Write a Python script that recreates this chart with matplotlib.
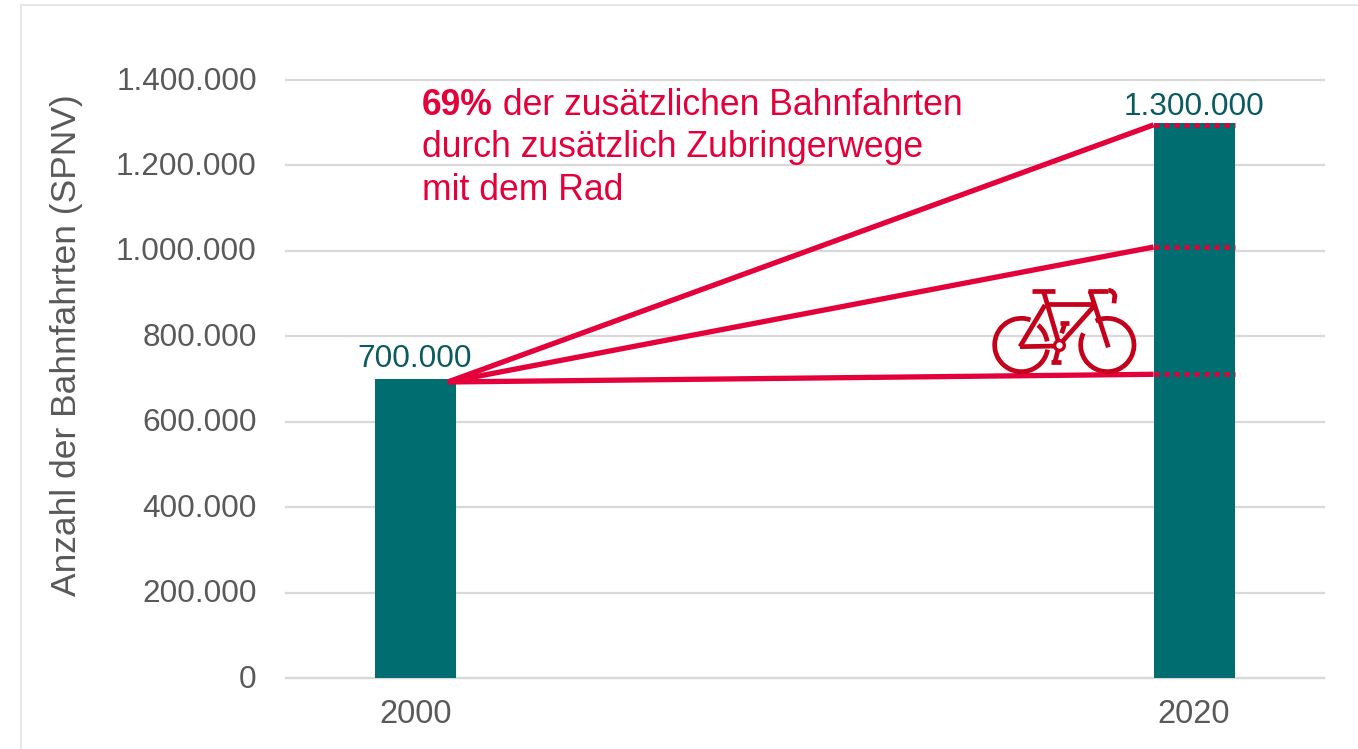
import matplotlib
matplotlib.use("Agg")
import matplotlib.pyplot as plt
from matplotlib.lines import Line2D
from matplotlib.patches import Arc
from matplotlib.transforms import ScaledTranslation

plt.rcParams['font.family'] = ['Liberation Sans', 'DejaVu Sans']

years = ['2000', '2020']
trips = [700000, 1300000]
trip_labels = ['700.000', '1.300.000']
y_ticks = [0, 200000, 400000, 600000, 800000, 1000000, 1200000, 1400000]
y_tick_labels = ['0', '200.000', '400.000', '600.000', '800.000', '1.000.000', '1.200.000', '1.400.000']
fan_start = 693000
fan_levels = [1295000, 1009000, 711000]
note_lines = ['durch zusätzlich Zubringerwege', 'mit dem Rad']

W, H = 1358, 749
TEAL = '#006d70'
RED = '#e4003a'
BIKE = '#c5001a'
GREY = '#595959'
GRID = '#d9d9d9'

fig = plt.figure(figsize=(W / 100, H / 100), dpi=100)
ax = fig.add_axes([286 / W, 1 - 678 / H, (1324 - 286) / W, (678 - 80) / H])

x = [0, 1]
bar_w = 0.104
ax.bar(x, trips, width=bar_w, color=TEAL, zorder=3)
ax.set_xlim(-0.167, 1.167)
ax.set_ylim(0, 1400000)
ax.set_xticks(x)
ax.set_xticklabels(years, fontsize=23.5, color=GREY)
ax.set_yticks(y_ticks)
ax.set_yticklabels(y_tick_labels, fontsize=22.7, color=GREY)
ax.tick_params(axis='x', length=0, pad=15)
ax.tick_params(axis='y', length=0, pad=21)
ax.grid(axis='y', color=GRID, linewidth=1.6, zorder=0, clip_on=False)
ax.set_axisbelow(True)
for s in ['top', 'right', 'left']:
    ax.spines[s].set_visible(False)
ax.spines['bottom'].set_color(GRID)
ax.spines['bottom'].set_linewidth(1.6)

# tick labels sit a bit higher in the original
up = ScaledTranslation(0, 2 / 100, fig.dpi_scale_trans)
for lab in ax.get_yticklabels():
    lab.set_transform(lab.get_transform() + up)

fig.text(67 / W, 1 - 345 / H, 'Anzahl der Bahnfahrten (SPNV)', rotation=90,
         fontsize=25.5, color=GREY, ha='center', va='center')

ax.text(-0.002, 712000, trip_labels[0], fontsize=22.7, color='#0a5a5f', ha='center', va='bottom', zorder=5)
ax.text(1.0, 1301000, trip_labels[1], fontsize=22.7, color='#0a5a5f', ha='center', va='bottom', zorder=5)

# fan of lines from the first bar, dotted across the second one
for lev in fan_levels:
    ax.plot([0.041, 1 - bar_w / 2], [fan_start, lev], color=RED, lw=3.8, zorder=4,
            solid_capstyle='butt', clip_on=False)
    ax.plot([1 - bar_w / 2, 1 + bar_w / 2], [lev, lev], color=RED, lw=3.4, zorder=4,
            linestyle=(0, (1.06, 1.06)), dash_capstyle='butt', clip_on=False)

t = ax.text(0.0077, 1318000, '69%', fontsize=25.6, color=RED, fontweight='bold', va='baseline', zorder=5)
ax.annotate(' der zusätzlichen Bahnfahrten', xy=(1, 0), xycoords=t, fontsize=25.6, color=RED,
            va='bottom', ha='left', annotation_clip=False, zorder=5)
ax.text(0.0077, 1220000, note_lines[0], fontsize=25.6, color=RED, va='baseline', zorder=5)
ax.text(0.0077, 1120000, note_lines[1], fontsize=25.6, color=RED, va='baseline', zorder=5)

# bicycle icon, in its own little axes
bx = fig.add_axes([980 / W, 1 - 390 / H, 270 / W, 120 / H])
bx.set_xlim(0, 810)
bx.set_ylim(360, 0)
bx.axis('off')
bx.patch.set_alpha(0)
for a, b in [
    ((155, 62), (225, 62)), ((190, 62), (238, 225)), ((205, 103), (342, 103)),
    ((345, 105), (238, 225)), ((195, 105), (120, 230)), ((120, 230), (238, 228)),
    ((330, 62), (385, 232)), ((325, 62), (385, 62)), ((238, 225), (225, 275)),
    ((212, 275), (242, 275)), ((240, 160), (268, 160)), ((255, 160), (245, 190)),
    ((404, 80), (402, 100)),
]:
    bx.plot([a[0], b[0]], [a[1], b[1]], color=BIKE, lw=3.4, solid_capstyle='butt')
bw = 3.4
bx.add_patch(Arc((124, 225), 160, 160, theta1=10, theta2=290, color=BIKE, lw=bw))
bx.add_patch(Arc((124, 225), 156, 156, theta1=-50, theta2=-8, color=BIKE, lw=bw))
bx.add_patch(Arc((382, 225), 160, 160, theta1=244, theta2=566, color=BIKE, lw=bw))
bx.add_patch(Arc((385, 81), 40, 40, theta1=-90, theta2=0, color=BIKE, lw=bw))
bx.plot([238], [225], marker='o', ms=7, mfc='white', mec=BIKE, mew=2.4, zorder=5)

# thin frame at top and left of the original screenshot
fig.add_artist(Line2D([21 / W, 1], [1 - 5 / H, 1 - 5 / H], color='#e2e2e2', lw=1.2))
fig.add_artist(Line2D([21 / W, 21 / W], [0, 1 - 5 / H], color='#e8e8e8', lw=1.5))

fig.savefig('out.png', dpi=100)
